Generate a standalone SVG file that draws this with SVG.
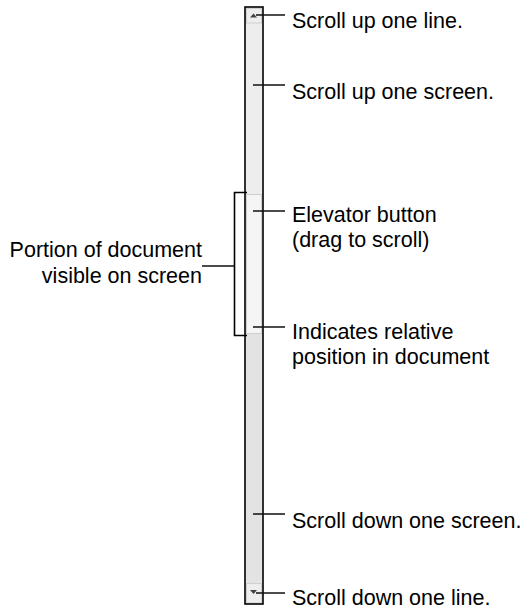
<svg xmlns="http://www.w3.org/2000/svg" width="527" height="610" viewBox="0 0 527 610">
<style>
text{font-family:"Liberation Sans",Arial,sans-serif;font-size:21.5px;fill:#000}
.ld{stroke:#111;stroke-width:1.5;fill:none}
.br{stroke:#000;stroke-width:1.6;fill:none}
</style>
<rect width="527" height="610" fill="#fff"/>
<g id="scrollbar">
<rect x="245" y="7" width="18" height="597" fill="#ededed"/>
<rect x="245" y="334" width="18" height="250" fill="#e3e3e3"/>
<rect x="246.5" y="194.5" width="15" height="139" fill="#f5f5f5" stroke="#cfcfcf" stroke-width="1"/>
<rect x="246.5" y="8.5" width="15" height="14.5" fill="#eeeeee" stroke="#cfcfcf" stroke-width="1"/>
<rect x="246.5" y="583.5" width="15" height="19.5" fill="#eeeeee" stroke="#cfcfcf" stroke-width="1"/>
<polygon points="250,17.5 257,17.5 253.5,13.5" fill="#444"/>
<polygon points="250,590 257,590 253.5,594" fill="#444"/>
<rect x="245" y="7" width="18" height="597" fill="none" stroke="#000" stroke-width="1.6"/>
</g>
<g id="connectors">
<line class="ld" x1="256" y1="15" x2="285" y2="15"/>
<line class="ld" x1="253" y1="85" x2="285" y2="85"/>
<line class="ld" x1="253" y1="211" x2="285" y2="211"/>
<line class="ld" x1="253" y1="327" x2="285" y2="327"/>
<line class="ld" x1="253" y1="514" x2="285" y2="514"/>
<line class="ld" x1="256" y1="593" x2="285" y2="593"/>
<path class="br" d="M247,192.5 H234.5 V335.5 H247"/>
<line class="ld" x1="202" y1="266" x2="234.5" y2="266"/>
</g>
<g id="label-up-line"><text x="292" y="28">Scroll up one line.</text></g>
<g id="label-up-screen"><text x="292" y="99">Scroll up one screen.</text></g>
<g id="label-elevator"><text x="292" y="222">Elevator button</text><text x="292" y="247">(drag to scroll)</text></g>
<g id="label-indicates"><text x="292" y="339">Indicates relative</text><text x="292" y="364">position in document</text></g>
<g id="label-down-screen"><text x="292" y="528">Scroll down one screen.</text></g>
<g id="label-down-line"><text x="292" y="605">Scroll down one line.</text></g>
<g id="label-portion"><text x="202" y="257" text-anchor="end">Portion of document</text><text x="202" y="283" text-anchor="end">visible on screen</text></g>
</svg>
